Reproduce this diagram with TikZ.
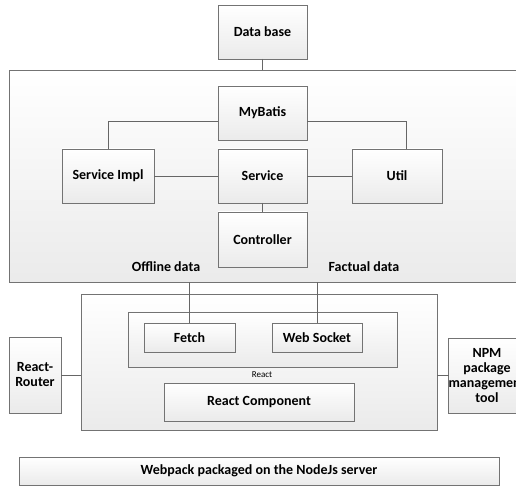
\documentclass[tikz,border=0pt]{standalone}
\usepackage{fontspec}
\setmainfont{Carlito}
\usepackage{tikz}
\usetikzlibrary{shadows,calc,positioning}

\begin{document}
\begin{tikzpicture}[x=1pt,y=-1pt]
	\tikzstyle{every node} = [font=\fontsize{14}{15}\selectfont\bfseries, align=center]
	\tikzstyle{box} = [draw = black!55, line width=0.6pt, inner sep=0pt, outer sep=0pt,
		top color=white, bottom color=black!8,
		drop shadow={opacity=0.25, shadow xshift=1.2pt, shadow yshift=-1.2pt}]
	\tikzstyle{link} = [draw = black!60, line width=0.6pt]
\clip (0,0) rectangle (516,494);
% back end
\node[box, minimum width=89, minimum height=54] (db) at (262.5, 32) {Data base};
\node[box, minimum width=521, minimum height=212] (back) at (269.5, 176) {};
\node[box, minimum width=89, minimum height=54] (mybatis) at (262.5, 113) {MyBatis};
\node[box, minimum width=92, minimum height=54] (impl) at (108, 176) {Service Impl};
\node[box, minimum width=89, minimum height=54] (service) at (262.5, 176) {Service};
\node[box, minimum width=90, minimum height=54] (util) at (397, 176) {Util};
\node[box, minimum width=89, minimum height=55] (ctrl) at (262.5, 239.5) {Controller};
	\node[draw = none]  at (166, 267)  {Offline data};
	\node[draw = none]  at (364, 267)  {Factual data};
% front end
\node[box, minimum width=356, minimum height=136] (react) at (259, 362) {};
\node[box, minimum width=269, minimum height=55] (comm) at (262.5, 339.5) {};
\node[box, minimum width=91, minimum height=29] (fetch) at (189.5, 337.5) {Fetch};
\node[box, minimum width=90, minimum height=29] (ws) at (317, 337.5) {Web Socket};
\node[box, minimum width=190, minimum height=38] (comp) at (259, 402) {React Component};
	\node[draw = none, font=\fontsize{9}{10}\selectfont]  at (262, 375)  {React};
\node[box, minimum width=52, minimum height=76] (router) at (35, 375) {React-\\Router};
\node[box, minimum width=64, minimum height=75] (npm) at (487, 375.5) {NPM\\package\\management\\tool};
\node[box, minimum width=480, minimum height=28] (webpack) at (259, 471) {Webpack packaged on the NodeJs server};

	\path[link] (db) -- (db |- back.north);
	\path[link] ([yshift=-8pt]mybatis.west) -| (impl.north);
	\path[link] ([yshift=-8pt]mybatis.east) -| ([xshift=9pt]util.north);
	\path[link] (impl) -- (service);
	\path[link] (service) -- (util);
	\path[link] (service) -- (ctrl);
	\path[link] (fetch) -- (fetch |- back.south);
	\path[link] (ws) -- (ws |- back.south);
	\path[link] (router.east) -- (router.east -| react.west);
	\path[link] (npm.west) -- (npm.west -| react.east);
\end{tikzpicture}
\end{document}
